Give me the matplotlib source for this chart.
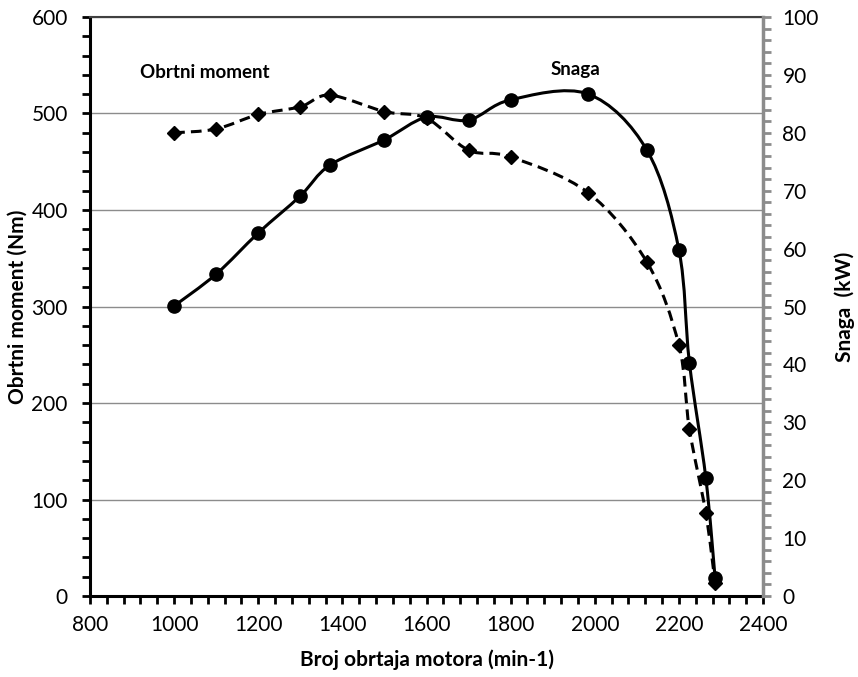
import numpy as np
import matplotlib.pyplot as plt
from matplotlib.path import Path
from matplotlib.patches import PathPatch
from matplotlib.ticker import MultipleLocator

plt.rcParams['font.family'] = ['Lato', 'DejaVu Sans']

# engine speed (min-1), torque (Nm), power (kW)
rpm = [1000, 1100, 1200, 1300, 1370, 1500, 1600, 1700, 1800, 1984, 2124, 2200, 2225, 2264, 2286]
torque = [480, 484, 499, 507, 519, 502, 495, 462, 455, 418, 346, 260, 173, 86, 14]
power = [50.1, 55.6, 62.7, 69.1, 74.4, 78.8, 82.7, 82.2, 85.7, 86.7, 77.0, 59.8, 40.3, 20.4, 3.2]


def smooth_path(x, y):
    # cubic bezier through the points, control points as in a Catmull-Rom spline
    p = np.column_stack([x, y]).astype(float)
    ext = np.vstack([p[0], p, p[-1]])
    verts = [p[0]]
    codes = [Path.MOVETO]
    for i in range(len(p) - 1):
        p0, p1, p2, p3 = ext[i], ext[i + 1], ext[i + 2], ext[i + 3]
        verts += [p1 + (p2 - p0) / 6, p2 - (p3 - p1) / 6, p2]
        codes += [Path.CURVE4] * 3
    return Path(verts, codes)


fig = plt.figure(figsize=(8.58, 6.77), dpi=100)
ax = fig.add_axes([0.1049, 0.1196, 0.7844, 0.8553])
ax2 = ax.twinx()

ax.set_xlim(800, 2400)
ax.set_ylim(0, 600)
ax2.set_ylim(0, 100)

ax.yaxis.grid(True, color='#8c8c8c', linewidth=1.0)
ax.set_axisbelow(True)

# torque: dashed with diamonds
ax.add_patch(PathPatch(smooth_path(rpm, torque), fill=False, edgecolor='black',
                       linewidth=2.2, linestyle=(0, (3.5, 2)), zorder=3))
ax.plot(rpm, torque, linestyle='none', marker='D', markersize=7, color='black', zorder=4)

# power: solid with circles
ax2.add_patch(PathPatch(smooth_path(rpm, power), fill=False, edgecolor='black',
                        linewidth=2.2, zorder=3))
ax2.plot(rpm, power, linestyle='none', marker='o', markersize=9.5, color='black', zorder=4)

# spines
ax.spines['left'].set_linewidth(2.2)
ax.spines['bottom'].set_linewidth(2.2)
ax.spines['top'].set_color('#404040')
ax.spines['top'].set_linewidth(1.5)
ax.spines['right'].set_visible(False)
for s in ['left', 'bottom', 'top']:
    ax2.spines[s].set_visible(False)
ax2.spines['right'].set_color('#8c8c8c')
ax2.spines['right'].set_linewidth(2.5)

# ticks
ax.xaxis.set_major_locator(MultipleLocator(200))
ax.xaxis.set_minor_locator(MultipleLocator(40))
ax.yaxis.set_major_locator(MultipleLocator(100))
ax.yaxis.set_minor_locator(MultipleLocator(20))
ax2.yaxis.set_major_locator(MultipleLocator(10))
ax2.yaxis.set_minor_locator(MultipleLocator(2))

ax.tick_params(axis='both', which='major', direction='out', length=6, width=2,
               color='black', labelsize=15)
ax.tick_params(axis='both', which='minor', direction='out', length=6, width=2, color='black')
ax.tick_params(axis='y', which='major', pad=10)
ax.tick_params(axis='x', which='major', pad=8)
ax.tick_params(axis='y', which='both', right=False)
ax2.tick_params(axis='y', which='major', direction='out', length=6, width=2,
                color='#8c8c8c', labelsize=15, pad=8)
ax2.tick_params(axis='y', which='minor', direction='out', length=6, width=2, color='#8c8c8c')

ax.set_xlabel('Broj obrtaja motora (min-1)', fontsize=15, fontweight='bold')
ax.set_ylabel('Obrtni moment (Nm)', fontsize=15, fontweight='bold')
ax2.set_ylabel('Snaga  (kW)', fontsize=15, fontweight='bold')
ax.xaxis.set_label_coords(0.5, -0.093)
ax.yaxis.set_label_coords(-0.092, 0.5)
ax2.yaxis.set_label_coords(1.106, 0.5)

ax.text(919, 542, 'Obrtni moment', fontsize=13.5, fontweight='bold', ha='left', va='center')
ax.text(1955, 546, 'Snaga', fontsize=13.5, fontweight='bold', ha='center', va='center')

fig.savefig('out.png', dpi=100)
